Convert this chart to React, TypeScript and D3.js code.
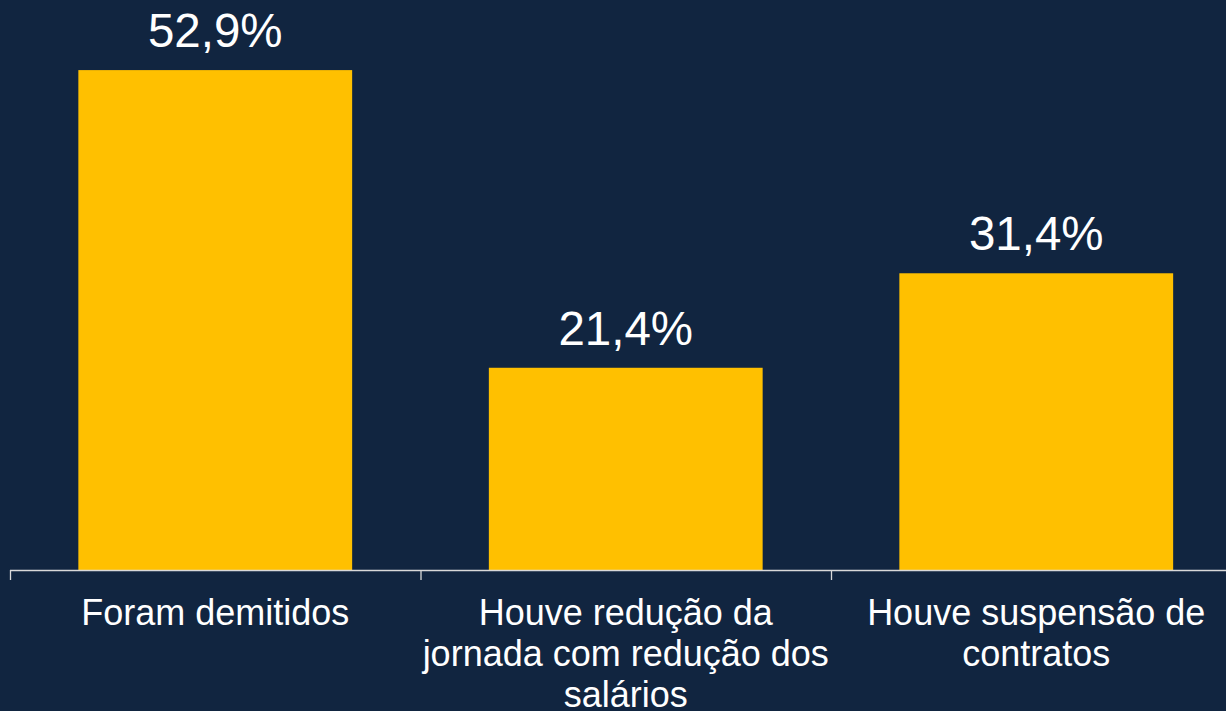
import { useRef, useEffect } from 'react';
import * as d3 from 'd3';

const categories = ['Foram demitidos', 'Houve redução da jornada', 'Houve suspensão de contratos'];
const labelLines = [
  ['Foram demitidos'],
  ['Houve redução da', 'jornada com redução dos', 'salários'],
  ['Houve suspensão de', 'contratos'],
];
const values = [52.9, 21.4, 31.4];

const WIDTH = 1226;
const HEIGHT = 711;
const BG = '#112540';
const BAR = '#FFC000';
const FONT = "'Liberation Sans', Arial, sans-serif";

export default function App() {
  const svgRef = useRef<SVGSVGElement>(null);

  useEffect(() => {
    const svg = d3.select(svgRef.current);
    svg.selectAll('*').remove();

    svg.append('rect')
      .attr('width', WIDTH)
      .attr('height', HEIGHT)
      .attr('fill', BG);

    const baseY = 570;
    const x0 = 10;
    const step = 410.5;

    // band for the bars, and a plain band for the tick positions
    const xBar = d3.scaleBand<string>()
      .domain(categories)
      .range([x0, x0 + step * categories.length])
      .paddingInner(0.333)
      .paddingOuter(0.1665);

    const xTick = d3.scaleBand<string>()
      .domain(categories)
      .range([x0, x0 + step * categories.length])
      .padding(0);

    const y = d3.scaleLinear().domain([0, 60]).range([baseY, 3]);

    const g = svg.append('g');

    g.selectAll('.bar')
      .data(values)
      .join('rect')
      .attr('class', 'bar')
      .attr('x', (_d, i) => xBar(categories[i])!)
      .attr('y', (d) => y(d))
      .attr('width', xBar.bandwidth())
      .attr('height', (d) => baseY - y(d))
      .attr('fill', BAR);

    // value labels
    g.selectAll('.val')
      .data(values)
      .join('text')
      .attr('class', 'val')
      .attr('x', (_d, i) => xBar(categories[i])! + xBar.bandwidth() / 2)
      .attr('y', (d) => y(d) - 23)
      .attr('text-anchor', 'middle')
      .attr('fill', '#FFFFFF')
      .attr('font-size', '47.5px')
      .attr('font-family', FONT)
      .text((d) => `${d.toFixed(1).replace('.', ',')}%`);

    // axis line and ticks
    g.append('line')
      .attr('x1', x0)
      .attr('x2', WIDTH)
      .attr('y1', baseY + 0.5)
      .attr('y2', baseY + 0.5)
      .attr('stroke', '#D9D9D9')
      .attr('stroke-width', 1.3);

    const tickXs = categories.map((c) => xTick(c)!).concat([x0 + step * categories.length]);
    g.selectAll('.tick')
      .data(tickXs)
      .join('line')
      .attr('class', 'tick')
      .attr('x1', (d) => d + 0.5)
      .attr('x2', (d) => d + 0.5)
      .attr('y1', baseY)
      .attr('y2', baseY + 10)
      .attr('stroke', '#D9D9D9')
      .attr('stroke-width', 1.3);

    // category labels
    const labels = g.selectAll('.cat')
      .data(labelLines)
      .join('text')
      .attr('class', 'cat')
      .attr('text-anchor', 'middle')
      .attr('fill', '#FFFFFF')
      .attr('font-size', '36px')
      .attr('font-family', FONT);

    labels.each(function (lines, i) {
      const cx = xTick(categories[i])! + xTick.bandwidth() / 2;
      d3.select(this)
        .selectAll('tspan')
        .data(lines)
        .join('tspan')
        .attr('x', cx)
        .attr('y', (_d, j) => 625 + j * 41)
        .text((d) => d);
    });
  }, []);

  return (
    <svg
      ref={svgRef}
      width={WIDTH}
      height={HEIGHT}
      viewBox={`0 0 ${WIDTH} ${HEIGHT}`}
      style={{ position: 'absolute', left: 0, top: 0, display: 'block' }}
    />
  );
}
